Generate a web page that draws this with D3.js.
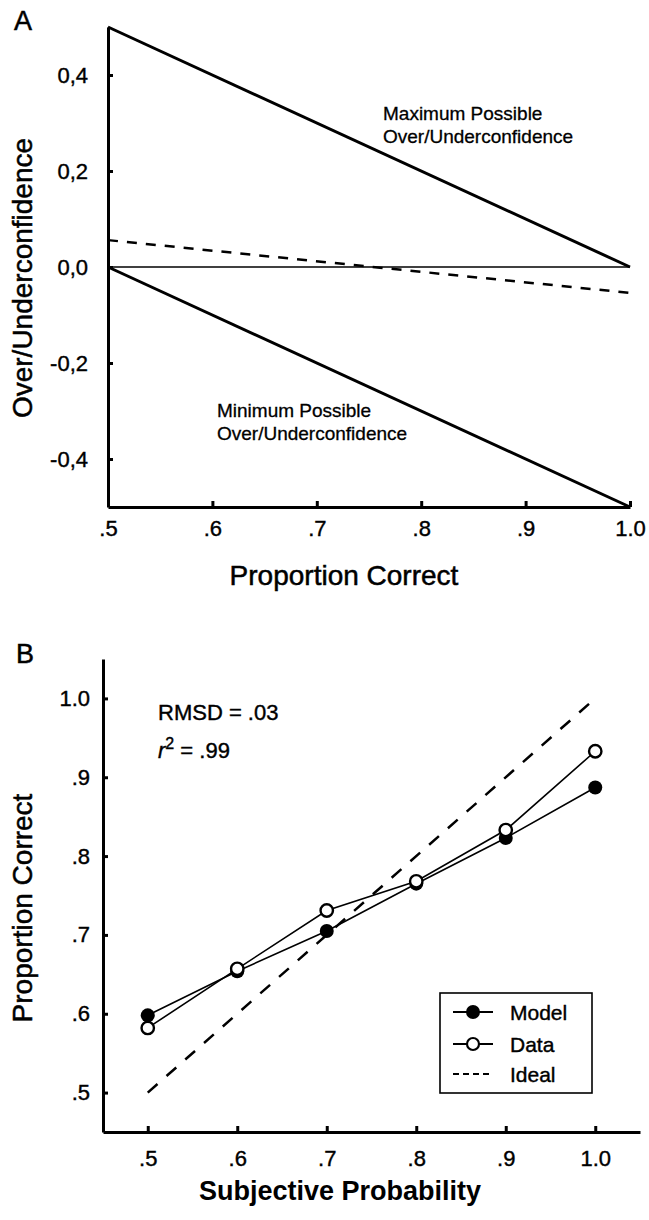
<!DOCTYPE html>
<meta charset="utf-8">
<script src="https://d3js.org/d3.v7.min.js"></script>
<style>
body { margin: 0; background: #fff; }
svg { font-family: "Liberation Sans", Arial, sans-serif; }
</style>
<svg id="chart" width="649" height="1220"></svg>
<script>
// ---- Panel A data ----
const propCorrect = [0.5, 1.0];
const maxOU = [0.5, 0.0];
const minOU = [0.0, -0.5];
const zeroOU = [0.0, 0.0];
const observedOU = [0.056, -0.054];
const aXTicks = [0.5, 0.6, 0.7, 0.8, 0.9, 1.0];
const aYTicks = [-0.4, -0.2, 0.0, 0.2, 0.4];

// ---- Panel B data ----
const subjProb = [0.5, 0.6, 0.7, 0.8, 0.9, 1.0];
const modelPC = [0.598, 0.654, 0.705, 0.765, 0.823, 0.887];
const dataPC = [0.582, 0.657, 0.731, 0.768, 0.833, 0.933];
const idealPC = [0.5, 1.0];
const bTicks = [0.5, 0.6, 0.7, 0.8, 0.9, 1.0];

const svg = d3.select("#chart");

const fmtX = d => d === 1 ? "1.0" : d3.format(".1f")(d).replace(/^0/, "");
const fmtComma = d => d3.format(".1f")(d).replace("−", "-").replace(".", ",");

// heavy black axis look, like the scanned figure
function styleAxis(g) {
  g.attr("font-family", "Liberation Sans, Arial, sans-serif").attr("font-size", 22);
  g.select(".domain").attr("stroke", "#000").attr("stroke-width", 3);
  g.selectAll(".tick line").attr("stroke", "#000").attr("stroke-width", 3);
  g.selectAll(".tick text").attr("fill", "#000")
    .attr("stroke", "#000").attr("stroke-width", 0.4);
}

// ================= Panel A =================
const xA = d3.scaleLinear().domain([0.5, 1.0]).range([108, 630]);
const yA = d3.scaleLinear().domain([-0.5, 0.5]).range([507, 27]);

svg.append("g")
  .attr("transform", "translate(0," + yA(-0.5) + ")")
  .call(d3.axisBottom(xA).tickValues(aXTicks).tickFormat(fmtX)
    .tickSizeInner(-6).tickSizeOuter(0).tickPadding(13))
  .call(styleAxis);

svg.append("g")
  .attr("transform", "translate(" + xA(0.5) + ",0)")
  .call(d3.axisLeft(yA).tickValues(aYTicks).tickFormat(fmtComma)
    .tickSizeInner(-5).tickSizeOuter(0).tickPadding(20))
  .call(styleAxis);

const lineA = d3.line().x(d => xA(d[0])).y(d => yA(d[1]));
const pairs = ys => propCorrect.map((p, i) => [p, ys[i]]);

svg.append("path").attr("d", lineA(pairs(zeroOU)))
  .attr("fill", "none").attr("stroke", "#000").attr("stroke-width", 1.6);
svg.append("path").attr("d", lineA(pairs(maxOU)))
  .attr("fill", "none").attr("stroke", "#000").attr("stroke-width", 3);
svg.append("path").attr("d", lineA(pairs(minOU)))
  .attr("fill", "none").attr("stroke", "#000").attr("stroke-width", 3);
svg.append("path").attr("d", lineA(pairs(observedOU)))
  .attr("fill", "none").attr("stroke", "#000").attr("stroke-width", 2.5)
  .attr("stroke-dasharray", "10,9");

// annotations
const noteA = svg.append("g").attr("font-size", 19)
  .attr("stroke", "#000").attr("stroke-width", 0.3);
noteA.append("text").attr("x", 383).attr("y", 120).text("Maximum Possible");
noteA.append("text").attr("x", 383).attr("y", 143).text("Over/Underconfidence");
noteA.append("text").attr("x", 217).attr("y", 417).text("Minimum Possible");
noteA.append("text").attr("x", 217).attr("y", 440).text("Over/Underconfidence");

const titles = svg.append("g").attr("stroke", "#000").attr("stroke-width", 0.5);
titles.append("text").attr("x", 344).attr("y", 585).attr("text-anchor", "middle")
  .attr("font-size", 28).text("Proportion Correct");
titles.append("text").attr("transform", "translate(32,278) rotate(-90)")
  .attr("text-anchor", "middle").attr("font-size", 28).text("Over/Underconfidence");
titles.append("text").attr("x", 14).attr("y", 30).attr("font-size", 27).text("A");

// ================= Panel B =================
const xB = d3.scaleLinear().domain([0.45, 1.05]).range([103, 640]);
const yB = d3.scaleLinear().domain([0.45, 1.05]).range([1132, 659]);

svg.append("g")
  .attr("transform", "translate(0," + yB(0.45) + ")")
  .call(d3.axisBottom(xB).tickValues(bTicks).tickFormat(fmtX)
    .tickSizeInner(-6).tickSizeOuter(0).tickPadding(18))
  .call(styleAxis);

svg.append("g")
  .attr("transform", "translate(" + xB(0.45) + ",0)")
  .call(d3.axisLeft(yB).tickValues(bTicks).tickFormat(fmtX)
    .tickSizeInner(-5).tickSizeOuter(0).tickPadding(13))
  .call(styleAxis);

const lineB = d3.line().x(d => xB(d[0])).y(d => yB(d[1]));

// ideal
svg.append("path").attr("d", lineB(idealPC.map(v => [v, v])))
  .attr("fill", "none").attr("stroke", "#000").attr("stroke-width", 2.5)
  .attr("stroke-dasharray", "13,12");

// model
const modelPts = subjProb.map((p, i) => [p, modelPC[i]]);
svg.append("path").attr("d", lineB(modelPts))
  .attr("fill", "none").attr("stroke", "#000").attr("stroke-width", 1.6);
svg.selectAll("circle.model").data(modelPts).join("circle")
  .attr("class", "model")
  .attr("cx", d => xB(d[0])).attr("cy", d => yB(d[1])).attr("r", 7)
  .attr("fill", "#000");

// data
const dataPts = subjProb.map((p, i) => [p, dataPC[i]]);
svg.append("path").attr("d", lineB(dataPts))
  .attr("fill", "none").attr("stroke", "#000").attr("stroke-width", 1.6);
svg.selectAll("circle.data").data(dataPts).join("circle")
  .attr("class", "data")
  .attr("cx", d => xB(d[0])).attr("cy", d => yB(d[1])).attr("r", 6.2)
  .attr("fill", "#fff").attr("stroke", "#000").attr("stroke-width", 2.4);

// stats
const stats = svg.append("g").attr("font-size", 22)
  .attr("stroke", "#000").attr("stroke-width", 0.4);
stats.append("text").attr("x", 158).attr("y", 720).text("RMSD = .03");
const r2 = stats.append("text").attr("x", 158).attr("y", 758);
r2.append("tspan").attr("font-style", "italic").text("r");
r2.append("tspan").attr("font-size", 16).attr("dy", -9).text("2");
r2.append("tspan").attr("dy", 9).text(" = .99");

// legend
const leg = svg.append("g").attr("transform", "translate(440,993)");
leg.append("rect").attr("width", 152).attr("height", 100)
  .attr("fill", "#fff").attr("stroke", "#000").attr("stroke-width", 1.6);
const legItems = ["Model", "Data", "Ideal"];
const legY = [19, 51, 81];
legItems.forEach((name, i) => {
  const g = leg.append("g").attr("transform", "translate(0," + legY[i] + ")");
  const ln = g.append("line").attr("x1", 13).attr("x2", 53)
    .attr("stroke", "#000").attr("stroke-width", 1.8);
  if (name === "Ideal") ln.attr("stroke-dasharray", "6,4").attr("stroke-width", 2);
  if (name === "Model") g.append("circle").attr("cx", 33).attr("r", 7).attr("fill", "#000");
  if (name === "Data") g.append("circle").attr("cx", 33).attr("r", 6)
    .attr("fill", "#fff").attr("stroke", "#000").attr("stroke-width", 2.2);
  g.append("text").attr("x", 70).attr("dy", "0.36em").attr("font-size", 21)
    .attr("stroke", "#000").attr("stroke-width", 0.4).text(name);
});

const titlesB = svg.append("g").attr("stroke", "#000").attr("stroke-width", 0.5);
titlesB.append("text").attr("x", 340).attr("y", 1200).attr("text-anchor", "middle")
  .attr("font-size", 27).attr("font-weight", "bold").attr("stroke-width", 0)
  .text("Subjective Probability");
titlesB.append("text").attr("transform", "translate(32,908) rotate(-90)")
  .attr("text-anchor", "middle").attr("font-size", 28).text("Proportion Correct");
titlesB.append("text").attr("x", 16).attr("y", 663).attr("font-size", 27).text("B");
</script>
